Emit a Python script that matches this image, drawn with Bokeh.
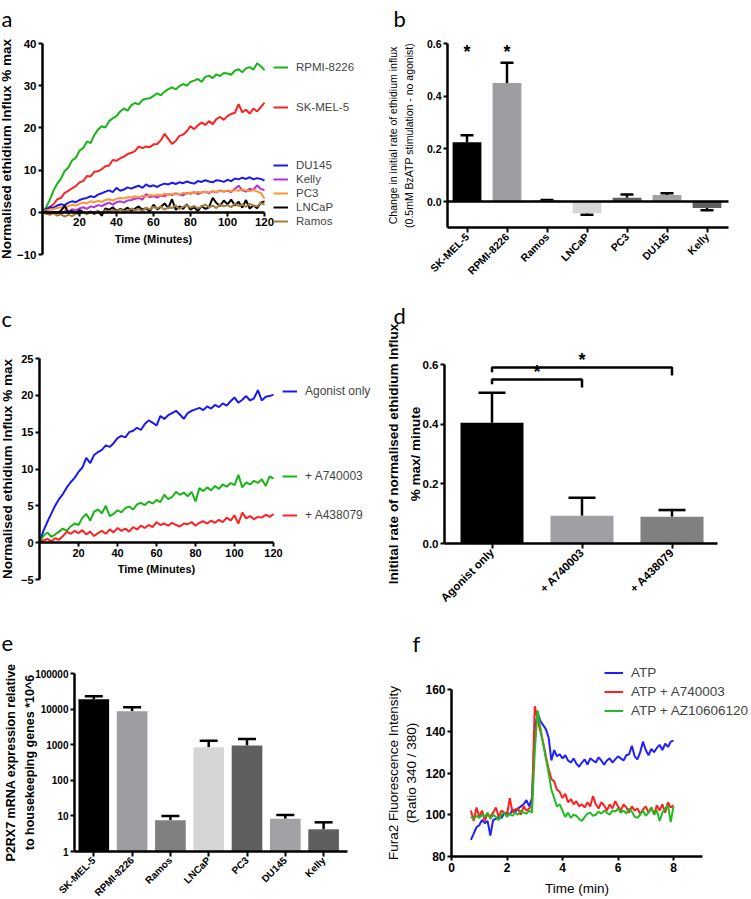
import math
from bokeh.plotting import figure
from bokeh.layouts import column, row
from bokeh.models import (Range1d, FixedTicker, Legend, LegendItem, Label,
                          Whisker, TeeHead, ColumnDataSource, LinearAxis)
from bokeh.core.properties import value
from bokeh.embed import file_html
from bokeh.resources import INLINE

FONT = "Liberation Sans"
LETTER_FONT = "Lato"

# ---------------- Panel a: ethidium influx (% max) ----------------
time_a = list(range(0, 121, 2))
a_rpmi = [0.0, 1.2, 3.0, 5.2, 6.8, 8.0, 9.8, 10.6, 12.3, 12.9, 14.6, 15.2, 16.8, 16.4, 18.3, 19.6,
          20.4, 20.1, 21.6, 22.3, 22.8, 23.9, 24.6, 24.1, 25.4, 25.9, 25.6, 26.6, 26.9, 27.0, 27.6,
          28.2, 27.7, 28.6, 29.2, 29.6, 29.1, 29.9, 30.4, 30.0, 30.9, 31.2, 31.6, 30.9, 32.1, 32.4,
          31.8, 32.7, 32.3, 33.0, 32.9, 32.6, 33.6, 33.9, 33.2, 34.1, 34.4, 33.8, 35.3, 34.6, 33.7]
a_skmel = [0.0, 0.4, 1.3, 1.9, 3.1, 3.4, 4.6, 5.1, 5.7, 6.2, 7.1, 7.4, 8.6, 8.5, 9.6, 9.7, 10.2,
           10.9, 11.1, 12.4, 12.2, 12.8, 13.2, 13.8, 14.1, 14.5, 15.6, 15.2, 15.6, 15.4, 16.1, 16.2,
           17.1, 18.6, 17.4, 16.2, 16.9, 18.1, 18.4, 19.2, 20.4, 19.7, 20.6, 21.3, 20.7, 21.6, 20.9,
           22.1, 22.6, 21.9, 22.8, 23.3, 23.6, 25.6, 23.7, 24.3, 23.4, 24.6, 23.9, 24.9, 26.0]
a_du145 = [0.3, 0.8, 1.2, 1.1, 1.6, 1.9, 1.7, 2.3, 2.6, 2.4, 2.9, 3.2, 3.4, 3.8, 3.6, 4.2, 4.5,
           4.9, 5.2, 4.8, 5.8, 5.1, 5.4, 5.9, 5.6, 6.0, 6.3, 5.8, 6.6, 6.1, 6.4, 6.0, 6.5, 6.8, 6.6,
           7.0, 6.7, 7.1, 6.9, 7.3, 7.0, 6.8, 7.4, 7.2, 7.6, 7.3, 7.1, 7.6, 7.5, 7.2, 7.7, 7.4, 8.0,
           7.8, 8.2, 7.9, 8.3, 7.8, 8.1, 7.9, 7.5]
a_kelly = [0.0, -0.3, 0.2, -0.2, 0.1, -0.4, 0.3, 0.2, 0.7, 0.5, 0.9, 1.2, 0.8, 1.4, 1.2, 1.7, 1.5,
           1.9, 2.3, 1.8, 2.4, 2.6, 2.3, 2.8, 2.9, 3.2, 3.4, 3.0, 4.3, 3.6, 3.8, 3.5, 4.0, 3.8, 4.3,
           4.1, 4.5, 4.2, 4.0, 4.6, 4.4, 4.8, 4.3, 4.7, 4.9, 4.5, 5.0, 4.7, 5.2, 4.9, 5.1, 4.8, 5.6,
           6.3, 5.2, 4.9, 5.6, 5.3, 6.4, 5.5, 5.3]
a_pc3 = [0.2, 0.5, 0.4, 0.8, 1.0, 1.2, 0.9, 1.5, 1.8, 1.6, 2.0, 2.3, 2.1, 2.6, 2.4, 2.7, 2.5, 2.9,
         3.1, 2.8, 3.2, 3.4, 3.3, 3.6, 3.5, 3.8, 3.6, 3.9, 3.7, 4.1, 3.9, 4.2, 4.0, 4.4, 4.1, 4.3,
         4.5, 4.2, 4.6, 4.4, 4.7, 4.5, 4.8, 4.6, 4.9, 4.7, 5.0, 4.8, 5.1, 4.9, 5.2, 5.0, 5.3, 5.1,
         5.4, 5.2, 5.0, 5.3, 4.9, 4.6, 3.2]
a_lncap = [0.0, 0.2, -0.3, 0.1, -0.2, 0.4, 1.6, -0.1, 0.3, -0.2, 0.5, 0.1, -0.3, 0.2, -0.4, 0.3,
           -0.8, 0.9, 0.6, 1.2, 0.3, 0.8, 0.5, 1.1, 0.4, 0.9, 1.4, 0.6, 1.0, 0.2, 1.8, 0.7, 1.3,
           2.1, 1.0, 3.1, 0.6, 1.4, 0.8, 1.9, 0.6, 1.2, 0.3, 1.5, 0.8, 1.2, 3.4, 2.2, 1.5, 2.8, 1.9,
           3.0, 1.6, 2.5, 1.1, 2.9, 0.9, 1.6, 1.0, 2.3, 2.6]
a_ramos = [0.0, -0.3, -0.6, -0.2, -0.8, -0.5, -1.0, -0.6, -0.9, -0.3, -0.4, 0.1, -0.5, 0.2, -0.2,
           0.4, -0.3, 0.5, 0.1, 0.6, 0.2, 0.7, 0.3, 0.4, 0.9, 0.5, 0.8, 0.3, 1.1, 0.7, 1.3, 0.9,
           1.4, 0.6, 1.2, 1.0, 1.6, 0.8, 1.3, 1.7, 1.1, 1.5, 0.9, 1.4, 1.8, 1.2, 1.6, 1.0, 1.9, 1.4,
           1.7, 1.2, 2.1, 1.5, 1.8, 1.3, 2.0, 1.6, 1.4, 2.2, 1.8]
a_names = ["RPMI-8226", "SK-MEL-5", "DU145", "Kelly", "PC3", "LNCaP", "Ramos"]
a_series = [a_rpmi, a_skmel, a_du145, a_kelly, a_pc3, a_lncap, a_ramos]
a_colors = ["#18b418", "#ff2020", "#1a1af0", "#b431e0", "#ff9430", "#000000", "#a47b3c"]

# ---------------- Panel b: change in initial rate ----------------
cell_lines = ["SK-MEL-5", "RPMI-8226", "Ramos", "LNCaP", "PC3", "DU145", "Kelly"]
b_mean = [0.225, 0.45, 0.004, -0.045, 0.014, 0.025, -0.025]
b_sem = [0.027, 0.077, 0.002, 0.005, 0.013, 0.006, 0.008]
b_sig = ["*", "*", "", "", "", "", ""]
bar_colors = ["#000000", "#9e9ea2", "#808080", "#d6d6d6", "#5f5f5f", "#a2a2a6", "#5f5f5f"]

# ---------------- Panel c: antagonists ----------------
time_c = list(range(0, 121, 2))
c_agonist = [0.0, 1.6, 2.8, 3.9, 5.0, 5.9, 6.6, 7.5, 8.2, 8.8, 9.6, 10.2, 11.5, 10.8, 11.9, 12.3,
             12.6, 13.2, 13.0, 13.5, 14.2, 14.5, 14.3, 15.0, 15.2, 15.6, 15.3, 16.1, 16.6, 16.3,
             15.9, 17.2, 16.8, 17.3, 17.6, 17.9, 17.4, 16.8, 17.6, 17.9, 18.1, 18.3, 18.0, 18.5,
             18.2, 18.7, 18.4, 18.9, 18.6, 19.2, 19.7, 19.0, 19.4, 19.9, 19.3, 19.6, 20.7, 19.3,
             19.8, 19.9, 20.1]
c_a740003 = [0.0, 0.9, 1.4, 0.8, 1.1, 1.5, 1.9, 1.6, 2.2, 2.6, 2.4, 3.4, 3.9, 3.0, 4.2, 4.5, 4.0,
             5.0, 3.6, 3.9, 4.4, 4.1, 4.7, 4.9, 4.5, 5.2, 5.4, 5.1, 5.6, 5.3, 5.8, 5.5, 6.5, 5.9,
             6.2, 6.9, 6.5, 6.8, 6.3, 6.9, 5.6, 7.4, 7.0, 7.5, 7.1, 7.7, 7.3, 7.9, 7.6, 8.1, 7.8,
             9.2, 7.5, 8.2, 7.9, 8.4, 8.1, 8.6, 7.7, 9.0, 8.7]
c_a438079 = [0.0, 0.3, 0.5, 0.2, 0.6, 0.4, 0.9, 1.5, 1.2, 1.6, 1.3, 1.7, 1.1, 1.5, 0.9, 1.3, 1.6,
             1.2, 1.8, 1.4, 2.0, 1.6, 1.9, 1.5, 2.1, 1.8, 2.3, 2.0, 2.4, 2.1, 2.8, 2.4, 2.6, 2.3,
             2.7, 2.4, 2.2, 2.6, 2.5, 2.8, 2.3, 2.7, 2.9, 2.6, 3.0, 2.7, 3.1, 2.8, 3.4, 3.0, 3.7,
             2.6, 4.1, 3.3, 3.6, 3.2, 3.5, 3.4, 3.8, 3.5, 3.9]
c_names = ["Agonist only", "+ A740003", "+ A438079"]
c_series = [c_agonist, c_a740003, c_a438079]
c_colors = ["#1a1af0", "#18b418", "#ff2020"]

# ---------------- Panel d: initial rate ----------------
d_groups = ["Agonist only", "+ A740003", "+ A438079"]
d_mean = [0.405, 0.093, 0.09]
d_sem = [0.1, 0.06, 0.022]
d_colors = ["#000000", "#a0a0a4", "#808080"]
d_pairs = [(0, 1), (0, 2)]

# ---------------- Panel e: P2RX7 mRNA ----------------
e_mean = [19000, 8700, 7.5, 850, 950, 8.3, 4.2]
e_sem = [4000, 2600, 2.5, 450, 500, 2.3, 2.4]

# ---------------- Panel f: Fura2 ----------------
time_f = [round(0.7 + 0.1 * i, 1) for i in range(74)]
f_atp = [88, 91, 94, 95, 97.5, 96, 97, 90, 97.5, 98,
         99, 98.5, 100.5, 101, 100, 102.5, 101.5, 103, 104, 105,
         107, 104, 108, 140, 149, 145, 143, 141, 137, 126,
         131, 128, 129, 127, 128.5, 126, 125, 127, 124.5, 123,
         125, 126.5, 124, 127, 126, 125, 127.5, 126, 124, 126,
         127, 125, 126.5, 128, 127, 126, 128.5, 129, 133, 128,
         126.5, 130, 135, 131, 128.5, 131.5, 130, 132, 133.5, 131,
         134, 132.5, 135, 135.5]
f_a740003 = [102, 97, 103.5, 99, 102, 97, 100.5, 99, 101, 103.5,
             99, 102, 101, 100, 108, 101, 102.5, 103, 100, 104,
             102, 103, 104, 152, 146, 140, 135, 128, 122, 117,
             116, 112, 111, 108, 110, 106, 107.5, 105, 106.5, 104,
             105, 103.5, 106, 104, 109, 105, 103, 106, 104.5, 102,
             105, 103, 106.5, 104, 102, 105, 103.5, 101, 104, 102,
             103, 100.5, 102.5, 104, 101, 103.5, 100, 104.5, 102, 105,
             101, 106, 103.5, 104.5]
f_az = [99, 98, 99.5, 98.5, 100, 99, 101, 98, 100, 99,
        97.5, 100, 101, 99, 100.5, 99.5, 101, 100, 102, 101,
        100.5, 102, 101, 130, 150, 142, 134, 127, 120, 112,
        108, 104, 105, 102, 99, 101, 98.5, 100, 99.5, 98,
        97, 99, 100.5, 101, 99.5, 100, 101.5, 100.5, 102, 101,
        100, 102, 101.5, 103, 101, 102, 100.5, 103, 101.5, 99,
        98.5, 100, 102, 99.5, 101, 103.5, 100, 102, 97, 101,
        103, 104.5, 96.5, 104]
f_names = ["ATP", "ATP + A740003", "ATP + AZ10606120"]
f_series = [f_atp, f_a740003, f_az]
f_colors = ["#1f1fff", "#ff1f1f", "#22bb22"]


# ======================= helpers (layout only) =======================
class Panel:
    def __init__(self, box, xmap, ymap, ylog=False):
        self.x0, self.y0, self.w, self.h = box
        (xv1, xp1), (xv2, xp2) = xmap
        (yv1, yp1), (yv2, yp2) = ymap
        self.xv1, self.xp1, self.kx = xv1, xp1, (xv2 - xv1) / (xp2 - xp1)
        self.yv1, self.yp1, self.ky = yv1, yp1, (yv2 - yv1) / (yp2 - yp1)
        self.ylog = ylog
        xs, xe = self.px2x(self.x0), self.px2x(self.x0 + self.w)
        ys, ye = self.px2y(self.y0 + self.h), self.px2y(self.y0)
        p = figure(width=self.w, height=self.h, x_range=Range1d(xs, xe), y_range=Range1d(ys, ye),
                   y_axis_type="log" if ylog else "linear", output_backend="svg",
                   toolbar_location=None, title=None, min_border=0)
        p.outline_line_color = None
        p.xgrid.visible = False
        p.ygrid.visible = False
        p.background_fill_color = "white"
        p.border_fill_color = "white"
        self.p = p

    def px2x(self, px):
        return self.xv1 + (px - self.xp1) * self.kx

    def px2y(self, py):
        v = self.yv1 + (py - self.yp1) * self.ky
        return 10 ** v if self.ylog else v

    def letter(self, text, ix, iy_base, size="22px"):
        self.p.add_layout(Label(x=ix - self.x0, y=self.y0 + self.h - iy_base, x_units="screen",
                                y_units="screen", text=text, text_font=LETTER_FONT,
                                text_font_size=size, text_baseline="alphabetic",
                                text_align="left", text_color="black"))

    def legend(self, renderer, label, left_px, center_px, size, glyph_w=15, standoff=8, h=20,
               font=FONT):
        leg = Legend(items=[LegendItem(label=value(label), renderers=[renderer])],
                     location=(left_px - self.x0, self.y0 + self.h - (center_px + h / 2)),
                     glyph_width=glyph_w, glyph_height=h, label_height=h,
                     label_standoff=standoff, padding=0, margin=0, spacing=0,
                     border_line_color=None, background_fill_alpha=0,
                     label_text_font=font, label_text_font_size=size)
        self.p.add_layout(leg)


def style_axis(ax, loc, bounds, ticks, size, bold=True, label=None, label_size="12px",
               label_bold=True, label_standoff=4, tick_out=4, overrides=None,
               orientation=None, line_height=1.2):
    ax.fixed_location = loc
    ax.bounds = bounds
    ax.ticker = FixedTicker(ticks=ticks)
    ax.axis_line_width = 2.5
    ax.axis_line_color = "black"
    ax.major_tick_line_width = 2
    ax.major_tick_line_color = "black"
    ax.major_tick_out = tick_out
    ax.major_tick_in = 0
    ax.minor_tick_line_color = None
    ax.major_label_text_font = FONT
    ax.major_label_text_font_size = size
    ax.major_label_text_font_style = "bold" if bold else "normal"
    ax.major_label_text_color = "black"
    ax.major_label_standoff = 2
    if overrides:
        ax.major_label_overrides = overrides
    if orientation is not None:
        ax.major_label_orientation = orientation
    if label:
        ax.axis_label = label
        ax.axis_label_text_font = FONT
        ax.axis_label_text_font_size = label_size
        ax.axis_label_text_font_style = "bold" if label_bold else "normal"
        ax.axis_label_text_color = "black"
        ax.axis_label_standoff = label_standoff
        ax.axis_label_text_line_height = line_height


# ======================= Panel a =======================
A = Panel((0, 0, 380, 296), [(0, 42), (120, 264)], [(40, 43), (-10, 254)])
pa = A.p
a_renderers = []
for ys, col in zip(a_series, a_colors):
    a_renderers.append(pa.line(time_a, ys, line_color=col, line_width=2))
style_axis(pa.xaxis[0], 0, (0, 120), [20, 40, 60, 80, 100, 120], "11.5px",
           label="Time (Minutes)", label_size="11px", label_standoff=3)
style_axis(pa.yaxis[0], 0, (-10, 40), [-10, 0, 10, 20, 30, 40], "11.5px",
           label="Normalised ethidium Influx % max", label_size="13.5px", label_standoff=0)
for r, name, cy in zip(a_renderers, a_names, [67, 107, 165, 179, 193, 207, 221]):
    A.legend(r, name, 273, cy, "11.5px")
A.letter("a", 1, 18)

# ======================= Panel b =======================
B = Panel((380, 0, 371, 296), [(0, 466.5), (1, 506.5)], [(0.6, 43), (0, 201)])
pb = B.p
bx = list(range(len(cell_lines)))
pb.vbar(x=bx, top=b_mean, bottom=0, width=0.72, fill_color=bar_colors, line_color=None)
b_tip = [m + (s if m >= 0 else -s) for m, s in zip(b_mean, b_sem)]
b_src = ColumnDataSource(dict(x=bx, lower=b_mean, upper=b_tip))
pb.add_layout(Whisker(source=b_src, base="x", lower="lower", upper="upper", line_width=2.5,
                      line_color="black", lower_head=None,
                      upper_head=TeeHead(size=13, line_width=2.5, line_color="black")))
bx0, bx1 = B.px2x(447), B.px2x(728)
style_axis(pb.xaxis[0], -0.1, (bx0, bx1), bx, "10.5px",
           overrides={i: n for i, n in enumerate(cell_lines)}, orientation=math.pi / 4,
           tick_out=5)
style_axis(pb.yaxis[0], bx0, (-0.1, 0.6), [0.0, 0.2, 0.4, 0.6], "10.5px",
           overrides={0.0: "0.0", 0.2: "0.2", 0.4: "0.4", 0.6: "0.6"},
           label="Change in initial rate of ethidium influx\n(0.5mM BzATP stimulation - no agonist)",
           label_size="10.5px", label_bold=False, label_standoff=9, line_height=1.35)
zero_axis = LinearAxis(fixed_location=0, bounds=(bx0, bx1), axis_line_width=2.5,
                       major_tick_line_color=None, minor_tick_line_color=None,
                       major_label_text_font_size="0px", ticker=FixedTicker(ticks=[]))
pb.add_layout(zero_axis, "below")
pb.text(x=bx, y=[0.567] * len(bx), text=b_sig, text_align="center", text_baseline="middle",
        text_font=value(FONT), text_font_style="bold", text_font_size="18px", text_color="black")
B.letter("b", 393, 18)

# ======================= Panel c =======================
C = Panel((0, 296, 380, 318), [(0, 39), (120, 273)], [(25, 358), (-5, 579)])
pc = C.p
c_renderers = []
for ys, col in zip(c_series, c_colors):
    c_renderers.append(pc.line(time_c, ys, line_color=col, line_width=2))
style_axis(pc.xaxis[0], 0, (0, 120), [20, 40, 60, 80, 100, 120], "11px",
           label="Time (Minutes)", label_size="11px", label_standoff=3)
style_axis(pc.yaxis[0], 0, (-5, 25), [-5, 0, 5, 10, 15, 20, 25], "11px",
           label="Normalised ethidium Influx % max", label_size="13.5px", label_standoff=3)
for r, name, cy in zip(c_renderers, c_names, [391, 476, 515]):
    C.legend(r, name, 282, cy, "12px")
C.letter("c", 1, 318)

# ======================= Panel d =======================
D = Panel((380, 296, 371, 318), [(0, 491.5), (1, 581.5)], [(0.6, 364), (0, 543)])
pd_ = D.p
dx = list(range(len(d_groups)))
pd_.vbar(x=dx, top=d_mean, bottom=0, width=0.7, fill_color=d_colors, line_color=None)
d_src = ColumnDataSource(dict(x=dx, lower=d_mean, upper=[m + s for m, s in zip(d_mean, d_sem)]))
pd_.add_layout(Whisker(source=d_src, base="x", lower="lower", upper="upper", line_width=2.5,
                       line_color="black", lower_head=None,
                       upper_head=TeeHead(size=27, line_width=2.5, line_color="black")))
dx0, dx1 = D.px2x(444), D.px2x(717)
style_axis(pd_.xaxis[0], 0, (dx0, dx1), dx, "11.5px",
           overrides={i: n for i, n in enumerate(d_groups)}, orientation=math.pi / 4, tick_out=5)
style_axis(pd_.yaxis[0], dx0, (0, 0.6), [0.0, 0.2, 0.4, 0.6], "11.5px",
           overrides={0.0: "0.0", 0.2: "0.2", 0.4: "0.4", 0.6: "0.6"},
           label="Initital rate of normalised ethidium Influx\n% max/ minute",
           label_size="13.5px", label_standoff=-3, line_height=1.45)
# significance brackets built from the compared groups
br_levels = [D.px2y(379), D.px2y(367)]
drop = D.px2y(364) - D.px2y(372)
xs_br, ys_br, sx, sy = [], [], [], []
for (g1, g2), lev in zip(d_pairs, br_levels):
    xs_br.append([g1, g1, g2, g2])
    ys_br.append([lev - drop * 0.6, lev, lev, lev - drop])
    sx.append((g1 + g2) / 2)
    sy.append(lev + drop * 0.9)
pd_.multi_line(xs_br, ys_br, line_color="black", line_width=2.5)
pd_.text(x=sx, y=sy, text=["*"] * len(sx), text_align="center", text_baseline="middle",
         text_font=value(FONT), text_font_style="bold", text_font_size="18px",
         text_color="black")
D.letter("d", 393, 315)

# ======================= Panel e =======================
E = Panel((0, 614, 380, 285), [(0, 93.3), (1, 131.6)], [(5, 673), (0, 851)], ylog=True)
pe = E.p
ex = list(range(len(cell_lines)))
pe.vbar(x=ex, top=e_mean, bottom=1, width=0.8, fill_color=bar_colors, line_color=None)
e_src = ColumnDataSource(dict(x=ex, lower=e_mean, upper=[m + s for m, s in zip(e_mean, e_sem)]))
pe.add_layout(Whisker(source=e_src, base="x", lower="lower", upper="upper", line_width=2.5,
                      line_color="black", lower_head=None,
                      upper_head=TeeHead(size=18, line_width=2.5, line_color="black")))
ex0, ex1 = E.px2x(74), E.px2x(347)
e_ticks = [1, 10, 100, 1000, 10000, 100000]
style_axis(pe.xaxis[0], 1, (ex0, ex1), ex, "10px",
           overrides={i: n for i, n in enumerate(cell_lines)}, orientation=math.pi / 4, tick_out=5)
style_axis(pe.yaxis[0], ex0, (1, 100000), e_ticks, "10px",
           overrides={t: str(t) for t in e_ticks},
           label="P2RX7 mRNA expression relative\nto housekeeping genes *10^6",
           label_size="12.5px", label_standoff=-5, line_height=1.35)
E.letter("e", 1, 643)

# ======================= Panel f =======================
F = Panel((380, 614, 371, 285), [(0, 451), (8, 673)], [(160, 689), (80, 856)])
pf = F.p
f_renderers = []
for ys, col in zip(f_series, f_colors):
    f_renderers.append(pf.line(time_f, ys, line_color=col, line_width=2))
style_axis(pf.xaxis[0], 80, (0, F.px2x(702)), [0, 2, 4, 6, 8], "12px",
           label="Time (min)", label_size="13.5px", label_bold=False, label_standoff=6)
style_axis(pf.yaxis[0], 0, (80, 160), [80, 100, 120, 140, 160], "12px",
           label="Fura2 Fluorescence Intensity\n(Ratio 340 / 380)", label_size="13.5px",
           label_bold=False, label_standoff=3, line_height=1.2)
f_leg = Legend(items=[LegendItem(label=value(n), renderers=[r]) for n, r in zip(f_names, f_renderers)],
               location=(604 - F.x0, F.y0 + F.h - (672 - 9.5 + 3 * 19)),
               glyph_width=19, glyph_height=19, label_height=19, label_standoff=8,
               padding=0, margin=0, spacing=0, border_line_color=None, background_fill_alpha=0,
               label_text_font=FONT, label_text_font_size="13.5px")
pf.add_layout(f_leg)
F.letter("f", 412, 643)

layout = column(row(pa, pb), row(pc, pd_), row(pe, pf))
open("out.html", "w").write(file_html(layout, INLINE))
